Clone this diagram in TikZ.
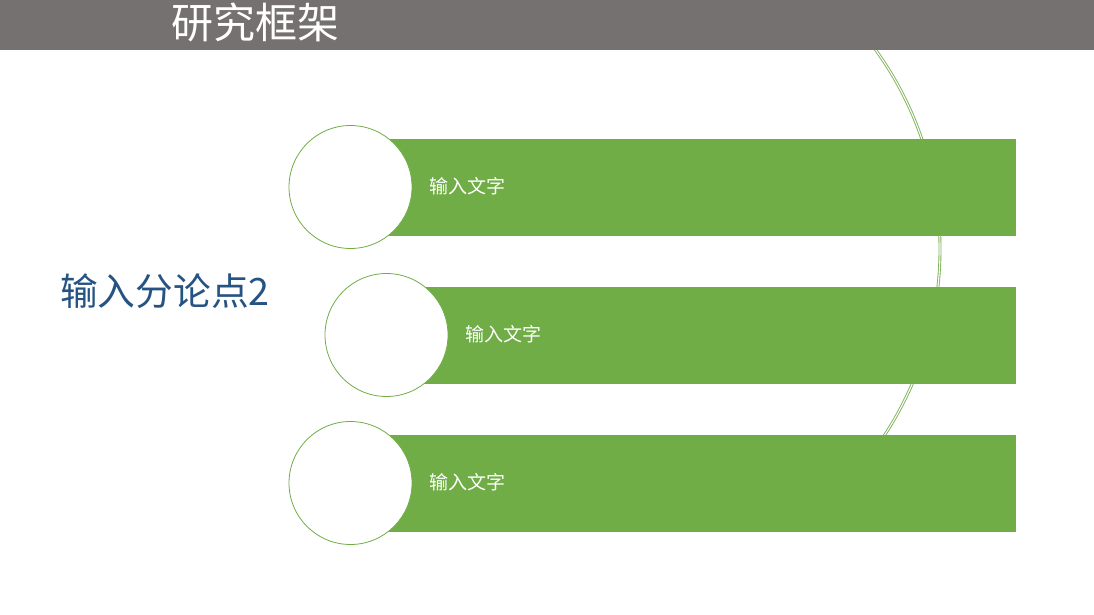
\documentclass[tikz,border=0pt]{standalone}
\usepackage{fontspec}
\setmainfont{Noto Sans CJK SC}
\definecolor{hdr}{HTML}{767171}
\definecolor{grn}{HTML}{70AD47}
\definecolor{arcg}{HTML}{7DB35A}
\definecolor{blu}{HTML}{255382}
\tikzset{
  bar/.style={fill=grn, draw=none, minimum height=97pt, inner sep=0pt},
  disc/.style={circle, fill=white, draw=grn, line width=0.8pt, minimum size=123pt, inner sep=0pt},
  lbl/.style={anchor=west, text=white, font=\fontsize{19}{21}\selectfont, inner sep=0pt},
}
\begin{document}
\begin{tikzpicture}[x=1pt,y=-1pt]
\useasboundingbox (0,0) rectangle (1094,615);
% big arc behind
\begin{scope}
  \clip (600,40) rectangle (1000,480);
  \draw[arcg, line width=0.9pt, double=white, double distance=1.1pt] (600,249) circle [radius=340pt];
\end{scope}
% bars
\node[bar, minimum width=666pt] (b1) at (683,187.5) {};
\node[bar, minimum width=630pt] (b2) at (701,335.5) {};
\node[bar, minimum width=666pt] (b3) at (683,483.5) {};
% circles
\node[disc] (c1) at (350.5,187) {};
\node[disc] (c2) at (386.5,335) {};
\node[disc] (c3) at (350.5,483) {};
% labels
\node[lbl] (t1) at (429,186) {输入文字};
\node[lbl] (t2) at (465,334) {输入文字};
\node[lbl] (t3) at (429,482) {输入文字};
% header
\fill[hdr] (0,0) rectangle (1094,50);
\node[text=white, font=\fontsize{42}{44}\selectfont, inner sep=0pt] (title) at (255,22) {研究框架};
% side heading
\node[anchor=west, text=blu, font=\fontsize{37.7}{40}\selectfont, inner sep=0pt] (side) at (60,291) {输入分论点2};
\end{tikzpicture}
\end{document}
